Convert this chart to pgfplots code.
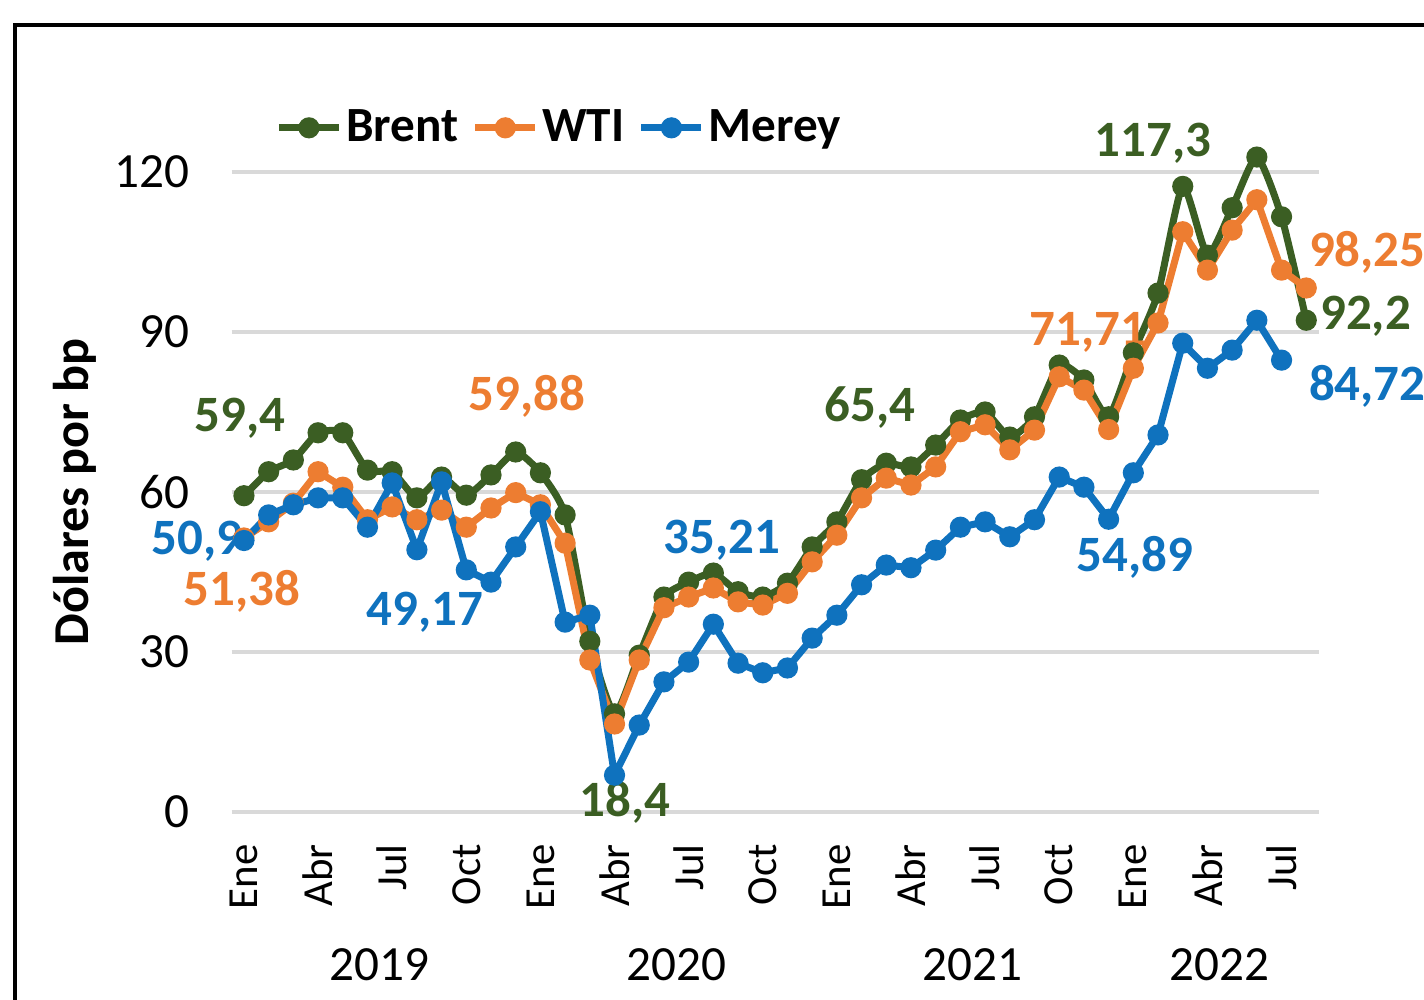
\documentclass[border=0pt]{standalone}
\usepackage{pgfplots}
\pgfplotsset{compat=1.18}
\usepackage{fontspec}
\setmainfont{Carlito}
\definecolor{brent}{HTML}{3B5E23}
\definecolor{wti}{HTML}{ED7D31}
\definecolor{merey}{HTML}{0F72BE}
\definecolor{gridc}{HTML}{D9D9D9}
\begin{document}
\begin{tikzpicture}
\useasboundingbox (0,0) rectangle (14.24,10);
\draw[black, line width=0.9pt] (0.15,-0.5) -- (0.15,9.75) -- (14.5,9.75);
\begin{axis}[
  at={(2.316cm,1.88cm)}, anchor=south west,
  scale only axis, width=10.87cm, height=6.4cm,
  xmin=-0.5, xmax=43.5, ymin=0, ymax=120,
  clip=false,
  axis line style={draw=none},
  major tick length=0pt,
  ymajorgrids, grid style={gridc, line width=1pt},
  ytick={0,30,60,90,120},
  yticklabel={\pgfmathprintnumber[assume math mode=true]{\tick}},
  yticklabel style={font=\fontsize{14}{16}\selectfont, anchor=east},
  yticklabel shift=0.3cm,
  xtick={0,3,6,9,12,15,18,21,24,27,30,33,36,39,42},
  xticklabels={Ene,Abr,Jul,Oct,Ene,Abr,Jul,Oct,Ene,Abr,Jul,Oct,Ene,Abr,Jul},
  xticklabel style={rotate=90, anchor=east, font=\fontsize{12.2}{14}\selectfont},
  xticklabel shift=0.2cm,
  legend columns=3,
  legend style={draw=none, fill=none, at={(0.03,1.069)}, anchor=west,
    font=\fontsize{14}{16}\selectfont\bfseries,
    /tikz/every even column/.append style={column sep=0.1cm},
    nodes={inner sep=1pt}},
  legend cell align=left,
  every axis plot/.append style={line width=2pt, mark=*, mark size=2pt},
]
\addplot[brent, mark options={fill=brent}, smooth, tension=0.35] coordinates {
(0,59.3)(1,63.8)(2,66.0)(3,71.1)(4,71.1)(5,64.1)(6,63.8)(7,58.9)(8,62.8)(9,59.4)
(10,63.2)(11,67.5)(12,63.6)(13,55.7)(14,32.0)(15,18.4)(16,29.4)(17,40.3)(18,43.1)(19,44.8)
(20,41.3)(21,40.3)(22,42.9)(23,49.7)(24,54.4)(25,62.3)(26,65.4)(27,64.7)(28,68.8)(29,73.5)
(30,75.0)(31,70.3)(32,74.1)(33,83.8)(34,81.0)(35,74.1)(36,86.1)(37,97.3)(38,117.3)(39,104.4)
(40,113.3)(41,122.8)(42,111.6)(43,92.2)};
\addlegendentry{Brent}
\addplot[wti, mark options={fill=wti}] coordinates {
(0,51.38)(1,54.4)(2,57.9)(3,63.8)(4,60.9)(5,54.8)(6,57.2)(7,54.8)(8,56.6)(9,53.4)
(10,57.0)(11,59.88)(12,57.6)(13,50.4)(14,28.5)(15,16.5)(16,28.5)(17,38.3)(18,40.3)(19,42.0)
(20,39.4)(21,38.8)(22,41.0)(23,46.9)(24,51.9)(25,58.9)(26,62.6)(27,61.3)(28,64.7)(29,71.3)
(30,72.6)(31,67.9)(32,71.6)(33,81.6)(34,79.1)(35,71.71)(36,83.2)(37,91.7)(38,108.8)(39,101.6)
(40,109.1)(41,114.8)(42,101.6)(43,98.25)};
\addlegendentry{WTI}
\addplot[merey, mark options={fill=merey}] coordinates {
(0,50.9)(1,55.7)(2,57.6)(3,58.9)(4,58.9)(5,53.4)(6,61.7)(7,49.17)(8,61.9)(9,45.4)
(10,43.1)(11,49.7)(12,56.3)(13,35.6)(14,36.9)(15,6.9)(16,16.3)(17,24.4)(18,28.1)(19,35.21)
(20,27.9)(21,26.1)(22,27.0)(23,32.6)(24,36.9)(25,42.6)(26,46.3)(27,45.8)(28,49.1)(29,53.4)
(30,54.4)(31,51.6)(32,54.8)(33,62.8)(34,60.9)(35,54.89)(36,63.6)(37,70.7)(38,87.9)(39,83.2)
(40,86.6)(41,92.2)(42,84.72)};
\addlegendentry{Merey}
% data labels
\begin{scope}[every node/.style={font=\fontsize{14.5}{17}\selectfont\bfseries, inner sep=0pt}]
\node[text=brent] at (axis cs:-0.16,73.9) {59,4};
\node[text=merey] at (axis cs:-1.9,50.8) {50,9};
\node[text=wti] at (axis cs:-0.08,41.3) {51,38};
\node[text=wti] at (axis cs:11.46,78.0) {59,88};
\node[text=merey] at (axis cs:7.33,37.5) {49,17};
\node[text=brent] at (axis cs:15.42,1.9) {18,4};
\node[text=merey] at (axis cs:19.35,51.0) {35,21};
\node[text=brent] at (axis cs:25.34,75.75) {65,4};
\node[text=wti] at (axis cs:34.17,90.0) {71,71};
\node[text=merey] at (axis cs:36.07,47.8) {54,89};
\node[text=brent] at (axis cs:36.8,125.4) {117,3};
\node[text=wti] at (axis cs:45.47,105) {98,25};
\node[text=brent] at (axis cs:45.4,93) {92,2};
\node[text=merey] at (axis cs:45.47,79.9) {84,72};
\end{scope}
% year labels
\begin{scope}[every node/.style={font=\fontsize{14}{16}\selectfont}]
\node at (axis cs:5.5,-28.7) {2019};
\node at (axis cs:17.5,-28.7) {2020};
\node at (axis cs:29.5,-28.7) {2021};
\node at (axis cs:39.5,-28.7) {2022};
\end{scope}
\node[rotate=90, font=\fontsize{14.3}{17}\selectfont\bfseries] at (axis description cs:-0.144,0.5) {Dólares por bp};
\end{axis}
\end{tikzpicture}
\end{document}
